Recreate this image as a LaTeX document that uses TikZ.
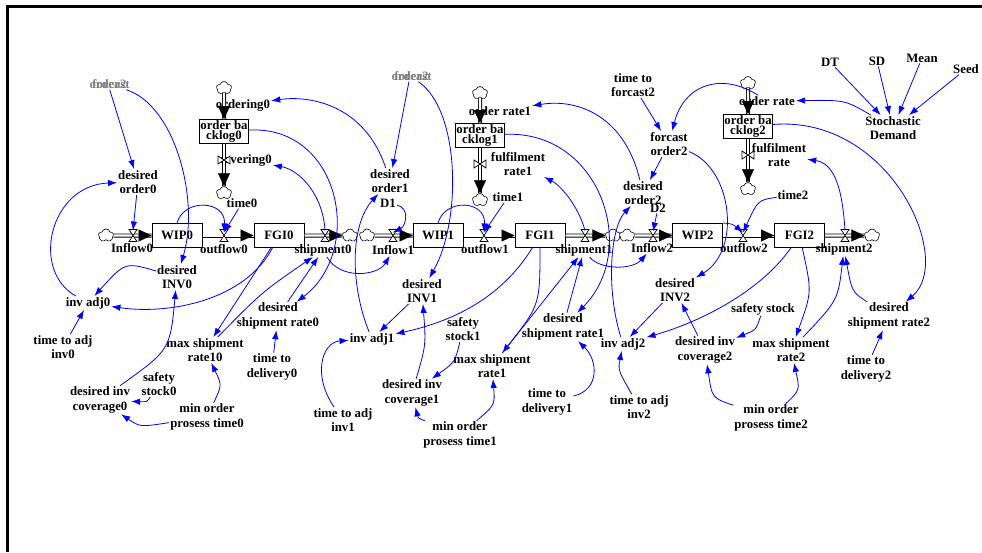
\documentclass[tikz,border=0pt]{standalone}
\usepackage{fontspec}
\setmainfont{Liberation Serif}
\usetikzlibrary{arrows.meta,shapes.symbols}

\begin{document}
\begin{tikzpicture}[x=1pt,y=-1pt,
    var/.style={font=\bfseries\fontsize{12.8}{14.5}\selectfont,align=center,inner sep=1pt},
    ghost/.style={var,text=black!50},
    stock/.style={var,draw,line width=1pt,fill=white,minimum width=50pt,minimum height=24pt,inner sep=0pt},
    backlog/.style={stock,minimum width=49pt,font=\bfseries\fontsize{12.8}{10.5}\selectfont},
    puff/.style={cloud,cloud puffs=5,cloud puff arc=150,aspect=1.2,draw,fill=white,line width=0.6pt,minimum width=15pt,minimum height=13pt,inner sep=0pt},
    pipe/.style={double=white,double distance=2.4pt,line width=0.8pt},
    ptip/.style={-{Triangle[length=13pt,width=12pt]},line width=0.1pt},
    valve/.style={draw,fill=white,line width=0.7pt},
    link/.style={draw=blue,line width=0.8pt,-{Latex[length=9pt,width=6.5pt]}}]
    \useasboundingbox (0,0) rectangle (982,552);
    \draw[line width=3pt] (982,6) -- (7,6) -- (7,552);

    % stocks and clouds
    \node[stock] (wip0) at (177,235.5) {WIP0};
    \node[stock] (fgi0) at (279,235.5) {FGI0};
    \node[stock] (wip1) at (438,235.5) {WIP1};
    \node[stock] (fgi1) at (540,235.5) {FGI1};
    \node[stock] (wip2) at (697.5,235.5) {WIP2};
    \node[stock] (fgi2) at (799.5,235.5) {FGI2};
    \node[backlog] (bl0) at (224,131.5) {order ba\\cklog0};
    \node[backlog] (bl1) at (480,135.5) {order ba\\cklog1};
    \node[backlog] (bl2) at (748,126.5) {order ba\\cklog2};
    \foreach \c/\x/\y in {c0a/106/235.5,c0b/350/235.5,c1a/367/235.5,c1b/613/235.5,c2a/627/235.5,c2b/872/235.5,
        c0t/224/88,c0d/224/193,c1t/480/93,c1d/480/200,c2t/748/83,c2d/748/189}
      \node[puff] (\c) at (\x,\y) {};
    \foreach \c/\x/\y in {vin0/133/235.5,vout0/224/235.5,vsh0/325/235.5,vin1/393/235.5,vout1/484/235.5,vsh1/585/235.5,
        vin2/653/235.5,vout2/743/235.5,vsh2/845/235.5,vord0/224/104,vcov0/224/160,vord1/480/111,vfr1/480/164,vord/748/101,vfr/748/155}
      \coordinate (\c) at (\x,\y);

    % variables
    \node[ghost] (sh0) at (108,84) {order2};
    \node[ghost] at (111,84) {forcast};
    \node[ghost] (sh1) at (410,76) {order2};
    \node[ghost] at (413,76) {forcast};
    \node[var] (il0) at (132,248) {Inflow0};
    \node[var] (ol0) at (224,249) {outflow0};
    \node[var] (sl0) at (323,250) {shipment0};
    \node[var] (il1) at (393,250) {Inflow1};
    \node[var] (ol1) at (485,249) {outflow1};
    \node[var] (sl1) at (584,250) {shipment1};
    \node[var] (il2) at (652,248) {Inflow2};
    \node[var] (ol2) at (744,248) {outflow2};
    \node[var] (sl2) at (844,249) {shipment2};
    \node[var] (ord0) at (243,105) {ordering0};
    \node[var] (cov0) at (245,160) {covering0};
    \node[var] (ordr1) at (500,111) {order rate1};
    \node[var] (fr1) at (518,164) {fulfilment\\rate1};
    \node[var] (ordr) at (767,101) {order rate};
    \node[var] (frl) at (779,155) {fulfilment\\rate};
    \node[var] (time0) at (242,203) {time0};
    \node[var] (time1) at (508,197) {time1};
    \node[var] (time2) at (793,195) {time2};
    \node[var] (do0) at (138,182) {desired\\order0};
    \node[var] (do1) at (390,181) {desired\\order1};
    \node[var] (d1) at (388,203) {D1};
    \node[var] (do2) at (643,193) {desired\\order2};
    \node[var] (d2) at (658,208) {D2};
    \node[var] (ttf2) at (633,85) {time to\\forcast2};
    \node[var] (fo2) at (669,144) {forcast\\order2};
    \node[var] (dt) at (830,62) {DT};
    \node[var] (sd) at (877,61) {SD};
    \node[var] (mean) at (922,58) {Mean};
    \node[var] (seed) at (966,69) {Seed};
    \node[var] (stoch) at (893,128) {Stochastic\\Demand};
    \node[var] (dinv0) at (177,277) {desired\\INV0};
    \node[var] (ia0) at (88,303) {inv adj0};
    \node[var] (tai0) at (63,347) {time to adj\\inv0};
    \node[var] (msr0) at (205,350) {max shipment\\rate10};
    \node[var] (dsr0) at (278,316) {desired\\shipment rate0};
    \node[var] (td0) at (272,367) {time to\\delivery0};
    \node[var] (ss0) at (159,384) {safety\\stock0};
    \node[var] (dic0) at (100,400) {desired inv\\coverage0};
    \node[var] (mop0) at (207,417) {min order\\prosess time0};
    \node[var] (dinv1) at (422,291) {desired\\INV1};
    \node[var] (ia1) at (372,339) {inv adj1};
    \node[var] (tai1) at (343,420) {time to adj\\inv1};
    \node[var] (ss1) at (463,329) {safety\\stock1};
    \node[var] (msr1) at (492,366) {max shipment\\rate1};
    \node[var] (dic1) at (412,393) {desired inv\\coverage1};
    \node[var] (mop1) at (460,435) {min order\\prosess time1};
    \node[var] (dsr1) at (563,327) {desired\\shipment rate1};
    \node[var] (td1) at (547,402) {time to\\delivery1};
    \node[var] (dinv2) at (675,290) {desired\\INV2};
    \node[var] (ia2) at (623,344) {inv adj2};
    \node[var] (tai2) at (639,407) {time to adj\\inv2};
    \node[var] (ss2) at (763,309) {safety stock};
    \node[var] (dic2) at (705,350) {desired inv\\coverage2};
    \node[var] (msr2) at (791,350) {max shipment\\rate2};
    \node[var] (dsr2) at (889,316) {desired\\shipment rate2};
    \node[var] (td2) at (866,369) {time to\\delivery2};
    \node[var] (mop2) at (771,418) {min order\\prosess time2};

    % pipes
    \draw[pipe] (c0a) -- (wip0);
    \draw[pipe] (wip0) -- (fgi0);
    \draw[pipe] (fgi0) -- (c0b);
    \draw[pipe] (c1a) -- (wip1);
    \draw[pipe] (wip1) -- (fgi1);
    \draw[pipe] (fgi1) -- (c1b);
    \draw[pipe] (c2a) -- (wip2);
    \draw[pipe] (wip2) -- (fgi2);
    \draw[pipe] (fgi2) -- (c2b);
    \draw[pipe] (c0t) -- (bl0);
    \draw[pipe] (bl0) -- (c0d);
    \draw[pipe] (c1t) -- (bl1);
    \draw[pipe] (bl1) -- (c1d);
    \draw[pipe] (c2t) -- (bl2);
    \draw[pipe] (bl2) -- (c2d);
    \foreach \n in {wip0,fgi0,c0b,wip1,fgi1,c1b,wip2,fgi2,c2b}
      \draw[ptip] ([xshift=-13pt]\n.west) -- (\n.west);
    \foreach \n in {bl0,c0d,bl1,c1d,bl2,c2d}
      \draw[ptip] ([yshift=13pt]\n.north) -- (\n.north);
    \foreach \v in {vin0,vout0,vsh0,vin1,vout1,vsh1,vin2,vout2,vsh2}
      \draw[valve] ([shift={(-4,-6)}]\v) -- ([shift={(4,-6)}]\v) -- ([shift={(-4,6)}]\v) -- ([shift={(4,6)}]\v) -- cycle;
    \foreach \v in {vcov0,vfr1,vfr}
      \draw[valve] ([shift={(-6,-4)}]\v) -- ([shift={(-6,4)}]\v) -- ([shift={(6,-4)}]\v) -- ([shift={(6,4)}]\v) -- cycle;

    % links, first sector
    \draw[link] (sh0) -- (do0);
    \draw[link] (sh0) .. controls (175,105) and (200,200) .. (dinv0);
    \draw[link] (do0) -- ([yshift=5pt]vin0);
    \draw[link] (ia0) .. controls (30,270) and (50,185) .. (do0);
    \draw[link] (wip0.north) .. controls (184,198) and (226,200) .. ([yshift=3pt]vout0);
    \draw[link] (time0) -- ([yshift=3pt]vout0);
    \draw[link] (fgi0) .. controls (245,300) and (170,315) .. (ia0);
    \draw[link] (fgi0) -- (msr0);
    \draw[link] (msr0) .. controls (262,292) .. (sl0);
    \draw[link] (dsr0) -- (sl0);
    \draw[link] (td0) -- (dsr0);
    \draw[link] (bl0) .. controls (340,125) and (365,250) .. (dsr0);
    \draw[link] ([yshift=5pt]vsh0) .. controls (323,195) and (300,170) .. (cov0);
    \draw[link] (dinv0) .. controls (125,262) .. (ia0);
    \draw[link] (tai0) -- (ia0);
    \draw[link] (dic0) .. controls (170,350) .. (dinv0);
    \draw[link] (ss0) .. controls (147,402) .. (dic0);
    \draw[link] (mop0) .. controls (140,427) .. (dic0);
    \draw[link] (mop0) .. controls (222,385) .. (msr0);

    % second sector
    \draw[link] (do1) .. controls (365,105) and (310,95) .. (ord0);
    \draw[link] (sh1) -- (do1);
    \draw[link] (d1) .. controls (410,208) and (406,226) .. ([yshift=3pt]vin1);
    \draw[link] (sl0) .. controls (340,280) and (378,276) .. (il1);
    \draw[link] (ia1) .. controls (350,285) and (350,225) .. (do1);
    \draw[link] (sh1) .. controls (460,110) and (462,220) .. (dinv1);
    \draw[link] (dinv1) -- (ia1);
    \draw[link] (fgi1) .. controls (500,300) and (450,322) .. (ia1);
    \draw[link] (tai1) .. controls (312,375) and (322,342) .. (ia1);
    \draw[link] (wip1.north) .. controls (445,198) and (486,200) .. ([yshift=3pt]vout1);
    \draw[link] (time1) -- ([yshift=3pt]vout1);
    \draw[link] (dic1) .. controls (426,345) .. (dinv1);
    \draw[link] (ss1) .. controls (455,362) .. (dic1);
    \draw[link] (mop1) .. controls (418,418) .. (dic1);
    \draw[link] (mop1) .. controls (495,405) .. (msr1);
    \draw[link] (fgi1) .. controls (540,305) .. (msr1);
    \draw[link] (msr1) -- (sl1);
    \draw[link] (dsr1) -- (sl1);
    \draw[link] (td1) .. controls (600,390) and (598,360) .. (dsr1);
    \draw[link] (bl1) .. controls (600,130) and (640,250) .. (dsr1);
    \draw[link] ([yshift=5pt]vsh1) .. controls (578,205) and (560,185) .. (fr1);

    % third sector
    \draw[link] (do2) .. controls (625,118) and (580,98) .. (ordr1);
    \draw[link] (sl1) .. controls (600,270) and (632,270) .. (il2);
    \draw[link] (d2) -- ([yshift=4pt]vin2);
    \draw[link] (ia2) .. controls (606,290) and (610,228) .. (do2);
    \draw[link] (ttf2) -- (fo2);
    \draw[link] (ordr) .. controls (722,72) and (684,84) .. (fo2);
    \draw[link] (fo2) -- (do2);
    \draw[link] (fo2) .. controls (732,168) and (742,250) .. (dinv2);
    \draw[link] (dinv2) -- (ia2);
    \draw[link] (fgi2) .. controls (760,292) and (700,322) .. (ia2);
    \draw[link] (dic2) -- (dinv2);
    \draw[link] (wip2.north east) .. controls (733,224) .. ([yshift=3pt]vout2);
    \draw[link] (time2) .. controls (758,200) .. ([yshift=3pt]vout2);
    \draw[link] ([yshift=5pt]vsh2) .. controls (842,182) and (832,163) .. (frl);
    \draw[link] (stoch) .. controls (845,100) .. (ordr);
    \foreach \v in {dt,sd,mean,seed}
      \draw[link] (\v) -- (stoch);
    \draw[link] (bl2) .. controls (890,115) and (955,260) .. (dsr2);
    \draw[link] (fgi2) .. controls (812,292) .. (msr2);
    \draw[link] (msr2) .. controls (838,300) .. (sl2);
    \draw[link] (dsr2) .. controls (852,292) .. (sl2);
    \draw[link] (td2) -- (dsr2);
    \draw[link] (ss2) .. controls (756,330) .. (dic2);
    \draw[link] (mop2) .. controls (712,398) .. (dic2);
    \draw[link] (mop2) .. controls (800,390) .. (msr2);
    \draw[link] (tai2) .. controls (618,370) .. (ia2);
\end{tikzpicture}
\end{document}
